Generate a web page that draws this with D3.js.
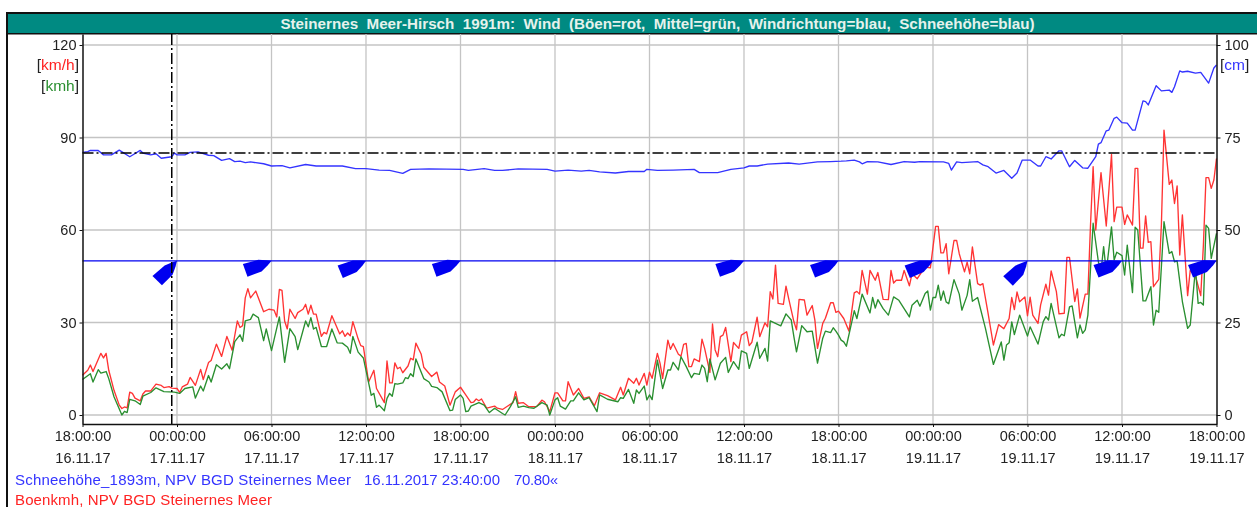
<!DOCTYPE html>
<html>
<head>
<meta charset="utf-8">
<script src="https://d3js.org/d3.v7.min.js"></script>
<style>
  html, body { margin: 0; padding: 0; background: #fff; overflow: hidden; }
  svg { display: block; font-family: "Liberation Sans", Arial, sans-serif; filter: blur(0.3px); }
  text { white-space: pre; }
</style>
</head>
<body>
<div id="chart"></div>
<script>
// values: [10-minute steps since 16.11.17 18:00, value]
const gustKmh = [[0,12.9],[2,14.5],[3,16.2],[4,14.1],[7,20],[8,18.5],[9,20],[10,14.5],[12,8],[14,3.2],[15,2.1],[16,2.6],[17,2.3],[18,7.4],[19,7],[20,5.5],[22,4.6],[23,6.8],[24,7.8],[26,7.8],[28,10],[30,9.6],[31,8.9],[33,9.2],[34,8.7],[36,8.6],[37,7.3],[38,9.1],[40,10],[41,12.2],[43,9.6],[45,14.8],[46,11.5],[48,17],[49,17.7],[51,23],[53,19],[55,25.5],[57,21],[59,30.5],[60,28.4],[61,29],[62,38],[63,41],[64,38],[66,40.2],[69,33.5],[71,34.3],[73,34],[74,31.8],[75,40.7],[76,40.4],[77,30.5],[78,27.9],[79,34.3],[81,31.3],[82,33.2],[84,34.3],[85,35.9],[86,32.7],[87,35.6],[88,32.7],[89,32.7],[91,25.5],[92,26.8],[93,26.3],[95,32.2],[98,26.3],[99,27.3],[100,25.5],[101,26.6],[102,25.7],[103,30.3],[105,24.7],[106,22.5],[107,22.2],[109,10.7],[111,14.5],[112,8.6],[115,4],[116,17.5],[117,10.4],[118,10.4],[119,16.9],[120,15],[121,15.5],[122,13.7],[124,15.9],[125,18.4],[126,17.9],[127,23.3],[129,19.8],[130,15.5],[133,12.5],[135,13.9],[136,10.7],[138,9.4],[140,3.2],[142,7.5],[144,9],[146,6.5],[148,4],[149,4.2],[150,5.2],[151,4.6],[152,5.2],[154,2.2],[157,2.9],[158,2.2],[160,1.8],[162,2.9],[164,4],[165,7.6],[166,3.8],[168,4],[170,2.7],[173,2.7],[175,4.8],[176,4.3],[178,1.1],[180,7.2],[181,7.2],[183,4.6],[184,4.6],[185,10.8],[187,6.5],[189,8.6],[191,5.4],[193,5.9],[195,3],[197,7.2],[200,6.3],[203,4.9],[205,9],[206,6.5],[208,11.9],[210,10.3],[211,11.9],[212,9.7],[214,13.5],[215,9.7],[216,13.9],[217,11.9],[219,20],[220,16.8],[221,11.9],[223,24.3],[224,21.3],[225,23.2],[227,19.7],[228,19.1],[229,22.9],[230,23.2],[231,15.7],[232,15.7],[233,18.2],[235,17.3],[236,24.6],[237,21.6],[239,13.8],[240,29.5],[241,21.1],[242,18.9],[243,25.4],[244,25.9],[245,28.4],[247,17.3],[248,23.5],[250,21.6],[251,25.9],[253,27],[254,22.5],[255,23.6],[257,31.7],[258,25.4],[260,29.9],[261,28.6],[262,40],[263,37.6],[264,48.6],[265,36.2],[267,35.9],[268,41.8],[269,37.8],[271,30.3],[272,27.6],[273,37.5],[275,37.3],[276,32.4],[278,35.5],[279,30.8],[280,21.6],[282,29.7],[283,31.4],[285,36.4],[286,36.4],[287,33.3],[288,33.7],[290,31.3],[292,27.2],[294,39.6],[295,40.1],[296,39.2],[297,46.9],[299,39.2],[300,46.9],[302,43.7],[303,46.2],[305,37.5],[307,37.4],[308,46.9],[309,42.8],[310,43.7],[312,43.7],[313,46.9],[315,41.9],[316,45.8],[318,44.2],[321,48],[323,47.7],[325,61.2],[326,61.2],[327,52.6],[328,52.6],[329,55.6],[330,45.8],[332,56.6],[333,56.6],[334,52.3],[336,46.4],[337,49.6],[338,45.8],[339,54.5],[341,42.6],[342,42.1],[343,42.6],[345,32.9],[347,22.7],[349,29.3],[351,28],[353,31.3],[354,38.1],[355,34.2],[356,39.9],[357,36.7],[359,38.3],[360,32.2],[361,38.2],[362,32.4],[364,29.7],[365,35.7],[367,42.4],[368,38.9],[369,46.7],[371,40],[372,32.8],[374,33],[375,51.1],[376,51.1],[378,36.8],[379,40.9],[380,31.4],[382,39.2],[383,39.2],[384,61.6],[385,80.5],[386,60],[388,78.6],[390,61.3],[392,84.5],[393,62.7],[394,67.4],[396,67.4],[397,61.8],[398,64.9],[400,61.6],[401,80],[402,80],[403,54.1],[404,54.1],[405,64.6],[406,56],[407,56.2],[408,41.6],[410,44],[411,61.6],[412,92.4],[414,74.8],[415,76.2],[416,68.6],[417,74.3],[418,51.9],[419,64.9],[421,38.7],[422,47],[424,45],[426,38.7],[427,55],[428,77],[429,77],[430,73.5],[431,76.2],[432,83.2]];

const meanKmh = [[0,11.5],[3,13.4],[4,10.7],[6,14.7],[7,13.6],[9,14.1],[10,11.8],[12,5.9],[15,0],[16,1.2],[17,0.8],[18,5.1],[20,4.6],[22,3.4],[23,6.1],[26,7.3],[28,8.8],[31,7.6],[35,7.4],[37,7],[39,8.6],[42,9.1],[43,5.5],[45,9.4],[46,7.8],[48,12.8],[49,10.7],[51,16.3],[53,14.9],[55,16.6],[56,15],[58,23.8],[60,26],[61,23.9],[62,30.5],[64,31],[65,32.7],[67,31.6],[69,24.1],[70,27.9],[72,20.9],[75,31.8],[77,17.1],[79,28],[81,25.4],[82,21.2],[85,30.5],[86,28.6],[87,31.6],[88,27.9],[89,28.4],[91,22.2],[93,22.2],[95,27.9],[97,23.4],[99,23.3],[101,22],[102,20],[103,25.5],[105,20.4],[107,18.5],[108,14.5],[110,6.4],[111,7],[112,2.5],[113,3.2],[115,1.4],[116,5.4],[117,7],[118,6.1],[119,10.2],[120,10],[122,10.4],[123,12.1],[124,11.8],[125,13.4],[126,12.5],[127,18.2],[130,11.8],[132,10.7],[133,9.3],[135,8.9],[137,7.5],[140,1.4],[141,1.6],[142,5],[144,6.5],[145,5.4],[146,1.1],[147,1.3],[148,2.9],[151,4],[153,3.2],[155,0.8],[157,2.2],[160,0.5],[161,0],[163,2.7],[165,5.9],[166,2.5],[168,2.9],[170,2.4],[172,2.2],[175,4],[177,3.2],[178,0],[180,4.9],[181,5.6],[182,2.9],[184,1.9],[186,4.6],[187,4.6],[189,7.2],[191,4.9],[193,5.6],[196,1.1],[197,6.5],[200,5.1],[204,4.3],[205,5.6],[206,5.4],[208,8.3],[210,3.8],[211,8.1],[212,7],[214,9.4],[215,4.9],[216,6.5],[217,5],[219,17.8],[221,8.6],[223,14.6],[224,14.6],[225,17.1],[227,14.6],[228,18.9],[230,15.7],[232,12.1],[233,13.5],[235,13.2],[236,16.2],[237,15.1],[238,10.8],[239,18.2],[241,11.4],[243,16.8],[245,18.7],[246,13.8],[248,17.3],[250,14.8],[251,20.8],[253,20],[254,15.1],[257,23.6],[258,18.4],[260,21.6],[261,17.5],[262,30.5],[264,29.7],[266,28.9],[268,32.8],[270,30.8],[271,25.4],[272,20.5],[274,29],[276,27],[278,27.2],[280,16.8],[282,24.9],[283,27.2],[285,26.7],[286,28.3],[287,27.2],[288,25.9],[289,24.3],[290,23.7],[291,22.3],[294,33.8],[295,31.3],[297,39.2],[300,33.1],[301,38.1],[302,34.7],[303,37.4],[305,34.5],[307,32.4],[309,38.3],[311,37.2],[315,31.8],[316,35.6],[318,37.2],[319,35.3],[321,39.4],[322,40.2],[323,34],[324,38.1],[325,38.1],[326,42.1],[327,37.2],[328,40.2],[329,36.7],[330,36.1],[332,43.9],[334,39.2],[335,34],[337,38.8],[338,43.9],[339,36.9],[341,38.1],[344,28],[347,16.4],[350,23.7],[351,17.8],[352,22.7],[353,23.4],[354,30.2],[355,26.1],[357,32.4],[360,25.6],[361,28.6],[364,23],[366,30.3],[367,31.9],[368,30.8],[369,36.2],[372,25],[373,26.2],[374,25.7],[376,35.1],[377,35.4],[379,25],[380,29.2],[381,26.5],[382,27.6],[383,32.4],[385,62.2],[387,49.7],[388,46.5],[389,54.6],[390,46.5],[392,61],[393,50.3],[394,52.8],[396,51.7],[397,45.4],[398,55.1],[400,39.7],[401,60.9],[402,60],[404,37],[405,37],[407,41.6],[408,29.2],[409,34],[410,33.3],[412,62.7],[414,52.4],[415,53],[416,49.7],[417,50],[419,36.8],[421,28.1],[422,29.2],[424,47.6],[425,36.2],[426,36.5],[427,35.7],[428,61.6],[429,60.5],[430,50.8],[432,58.9]];

const snowCm = [[0,71],[2,71.2],[3,71.5],[6,71.5],[8,70.3],[11,70.3],[14,71.6],[18,69.8],[22,71.5],[23,70.8],[26,70.3],[28,70.6],[30,69.4],[34,69.8],[35,70.8],[36,70.3],[39,70.3],[41,71],[44,71.1],[48,70.2],[50,70.1],[53,68.8],[56,69.3],[58,68.5],[60,68.6],[62,68.2],[64,68.4],[69,67.9],[72,67.3],[76,67.4],[79,66.8],[85,67.7],[89,67.3],[99,67.3],[104,66.6],[108,66.6],[113,66.2],[117,66.1],[122,65.3],[125,66.4],[132,66.5],[145,66.4],[147,66.1],[153,66.6],[157,66.1],[160,66.1],[166,66.5],[177,66.4],[180,65.9],[185,66.2],[190,65.9],[193,66.1],[197,65.7],[203,65.4],[208,65.8],[214,65.8],[215,66.4],[219,66.1],[225,66.2],[233,66.4],[235,65.5],[242,65.5],[247,66.4],[252,66.8],[254,67.3],[257,67.3],[261,67.8],[269,68.1],[273,67.8],[280,68.4],[285,68.5],[289,68.6],[291,68.7],[294,68.9],[296,68.4],[297,67.9],[299,68.5],[303,68.4],[308,67.7],[313,68.5],[317,68.3],[319,68.5],[328,68.4],[330,68],[331,66.2],[333,68.4],[335,68.2],[341,68.5],[343,67.6],[345,67.1],[348,65.4],[351,66.1],[354,64],[356,65.4],[358,68.9],[361,68.9],[364,67.3],[365,67.3],[367,69.8],[369,69.2],[372,71.4],[373,71.4],[376,67.1],[378,68.8],[381,66.8],[383,66.7],[386,69.8],[387,73.2],[388,73.6],[390,76.8],[391,77],[393,80.2],[394,80.5],[396,79],[398,78.9],[400,77],[401,77],[404,84.9],[405,84.7],[406,83.8],[409,89],[411,87.6],[414,87.8],[415,87.2],[416,88.7],[418,93],[419,92.7],[421,92.9],[424,92.4],[426,92.6],[429,89.7],[431,93.8],[432,94.6]];

// wind direction every 6 hours where the station reported it
const windSteps = [36, 72, 108, 144, 252, 288, 324, 360, 396, 432];
const windDirDeg = [225, 250, 247, 250, 250, 248, 247, 224, 248, 248];
const windLevelKmh = 50;

const timeTicks = [0, 36, 72, 108, 144, 180, 216, 252, 288, 324, 360, 396, 432];
const timeLabels = ["18:00:00", "00:00:00", "06:00:00", "12:00:00", "18:00:00", "00:00:00", "06:00:00", "12:00:00", "18:00:00", "00:00:00", "06:00:00", "12:00:00", "18:00:00"];
const dateLabels = ["16.11.17", "17.11.17", "17.11.17", "17.11.17", "17.11.17", "18.11.17", "18.11.17", "18.11.17", "18.11.17", "19.11.17", "19.11.17", "19.11.17", "19.11.17"];
const kmhTicks = [0, 30, 60, 90, 120];
const cmTicks = [0, 25, 50, 75, 100];

const cursorStep = 34;
const cursorCm = 70.8;

const titleText = "Steinernes  Meer-Hirsch  1991m:  Wind  (Böen=rot,  Mittel=grün,  Windrichtung=blau,  Schneehöhe=blau)";
const snowName = "Schneehöhe_1893m, NPV BGD Steinernes Meer";
const cursorTime = "16.11.2017 23:40:00";
const cursorValue = "70.80«";
const gustName = "Boenkmh, NPV BGD Steinernes Meer";

main();

function main () {
  const width = 1257,
    height = 507;
  const plot = { left: 82.5, right: 1216.5, top: 34, bottom: 424 };
  const colors = { grid: "#c4c4c4", gust: "#ff3434", mean: "#2a8f30", snow: "#3434ff", wind: "#0000f0", ink: "#222" };
  const tickFont = 14.5,
    legendFont = 15;

  const svg = d3
    .select("#chart")
    .append("svg")
    .attr("width", width)
    .attr("height", height);

  // scales
  const scaleX = d3.scaleLinear().domain([0, 432]).range([plot.left, plot.right]);
  const scaleKmh = d3.scaleLinear().domain([0, 120]).range([415, 45]);
  const scaleCm = d3.scaleLinear().domain([0, 100]).range([415, 45]);

  // frame and title bar
  svg.append("rect").attr("x", 6).attr("y", 12).attr("width", 2).attr("height", height - 12).attr("fill", "#111");
  svg.append("rect").attr("x", 6).attr("y", 12).attr("width", width - 6).attr("height", 2).attr("fill", "#111");
  svg.append("rect").attr("x", 8).attr("y", 14).attr("width", width - 8).attr("height", 19).attr("fill", "#008a82");
  svg.append("rect").attr("x", 8).attr("y", 33).attr("width", width - 8).attr("height", 1.5).attr("fill", "#111");
  svg.append("text")
    .attr("x", 657.5)
    .attr("y", 29)
    .attr("text-anchor", "middle")
    .attr("font-size", 15.2)
    .attr("font-weight", "bold")
    .attr("fill", "#e6f2ec")
    .text(titleText);

  // grid
  const grid = svg.append("g").attr("stroke", colors.grid).attr("stroke-width", 1.3);
  grid.selectAll(".h")
    .data(kmhTicks)
    .join("line")
    .attr("class", "h")
    .attr("x1", plot.left).attr("x2", plot.right)
    .attr("y1", (d) => scaleKmh(d)).attr("y2", (d) => scaleKmh(d));
  grid.selectAll(".v")
    .data(timeTicks.slice(1, -1))
    .join("line")
    .attr("class", "v")
    .attr("x1", (d) => scaleX(d)).attr("x2", (d) => scaleX(d))
    .attr("y1", plot.top).attr("y2", plot.bottom);

  // series
  const lineOf = (scaleY) => d3.line().x((d) => scaleX(d[0])).y((d) => scaleY(d[1]));
  const drawLine = (data, scaleY, color) =>
    svg.append("path")
      .attr("d", lineOf(scaleY)(data))
      .attr("fill", "none")
      .attr("stroke", color)
      .attr("stroke-width", 1.35)
      .attr("stroke-linejoin", "round");

  drawLine(gustKmh, scaleKmh, colors.gust);
  drawLine(meanKmh, scaleKmh, colors.mean);
  drawLine(snowCm, scaleCm, colors.snow);

  // wind direction baseline and boat shaped arrows
  svg.append("line")
    .attr("x1", plot.left).attr("x2", plot.right)
    .attr("y1", scaleKmh(windLevelKmh)).attr("y2", scaleKmh(windLevelKmh))
    .attr("stroke", colors.wind)
    .attr("stroke-width", 1.3);

  const arrowShape = [[0, 0], [-5, -2.5], [-12, -5.5], [-28, -6.7], [-28, 6.7], [-13, 6.7], [-5, 3]];
  svg.append("g")
    .selectAll("polygon")
    .data(windSteps)
    .join("polygon")
    .attr("points", arrowShape.join(" "))
    .attr("fill", colors.wind)
    .attr("transform", (d, i) =>
      `translate(${scaleX(d)},${scaleKmh(windLevelKmh)}) rotate(${windDirDeg[i] - 180 - 90})`);

  // cursor
  svg.append("line")
    .attr("x1", scaleX(cursorStep)).attr("x2", scaleX(cursorStep))
    .attr("y1", plot.top).attr("y2", plot.bottom)
    .attr("stroke", "#000")
    .attr("stroke-width", 1.5)
    .attr("stroke-dasharray", "11 3 2 3");
  svg.append("line")
    .attr("x1", plot.left).attr("x2", plot.right)
    .attr("y1", scaleCm(cursorCm)).attr("y2", scaleCm(cursorCm))
    .attr("stroke", "#000")
    .attr("stroke-width", 1.5)
    .attr("stroke-dasharray", "11 3 2 3");

  // axes
  const styleAxis = (g) => {
    g.selectAll("path, line").attr("stroke", "#111");
    g.select(".domain").attr("stroke-width", 1.5);
    g.selectAll("text")
      .attr("fill", colors.ink)
      .attr("font-size", tickFont)
      .attr("font-family", '"Liberation Sans", Arial, sans-serif');
  };

  // the axis lines run past the data range, down to the frame of the plot
  const axisKmh = scaleKmh.copy()
    .domain([scaleKmh.invert(plot.bottom), scaleKmh.invert(plot.top)])
    .range([plot.bottom, plot.top]);
  const axisCm = scaleCm.copy()
    .domain([scaleCm.invert(plot.bottom), scaleCm.invert(plot.top)])
    .range([plot.bottom, plot.top]);

  svg.append("g")
    .attr("transform", `translate(${plot.left},0)`)
    .call(d3.axisLeft(axisKmh).tickValues(kmhTicks).tickSize(3).tickSizeOuter(0).tickPadding(3).tickFormat(d3.format("d")))
    .call(styleAxis);

  svg.append("g")
    .attr("transform", `translate(${plot.right},0)`)
    .call(d3.axisRight(axisCm).tickValues(cmTicks).tickSize(4).tickSizeOuter(0).tickPadding(4).tickFormat(d3.format("d")))
    .call(styleAxis);

  const axisX = svg.append("g")
    .attr("transform", `translate(0,${plot.bottom})`)
    .call(d3.axisBottom(scaleX).tickValues(timeTicks).tickSize(3).tickSizeOuter(0).tickPadding(5).tickFormat((d, i) => timeLabels[i]))
    .call(styleAxis);
  axisX.selectAll(".tick text")
    .attr("dy", null)
    .attr("y", 17)
    .each(function (d, i) {
      d3.select(this.parentNode)
        .append("text")
        .attr("y", 39)
        .attr("text-anchor", "middle")
        .attr("fill", colors.ink)
        .attr("font-size", tickFont)
        .attr("font-family", '"Liberation Sans", Arial, sans-serif')
        .text(dateLabels[i]);
    });

  // units
  const unitLabel = (x, y, anchor, unit, color) => {
    const t = svg.append("text").attr("x", x).attr("y", y).attr("text-anchor", anchor).attr("font-size", 15.5).attr("fill", colors.ink);
    t.append("tspan").text("[");
    t.append("tspan").attr("fill", color).text(unit);
    t.append("tspan").text("]");
  };
  unitLabel(79, 70, "end", "km/h", "#f22");
  unitLabel(79, 91, "end", "kmh", colors.mean);
  unitLabel(1220, 70, "start", "cm", colors.snow);

  // legend lines below the chart
  const legendText = (x, y, color, label, length) =>
    svg.append("text")
      .attr("x", x)
      .attr("y", y)
      .attr("font-size", legendFont)
      .attr("fill", color)
      .attr("textLength", length)
      .text(label);
  legendText(15, 485, colors.snow, snowName, 336);
  legendText(364, 485, colors.snow, cursorTime, 136);
  legendText(514, 485, colors.snow, cursorValue, 44);
  legendText(15, 505, "#f22", gustName, 257);
}
</script>
</body>
</html>
